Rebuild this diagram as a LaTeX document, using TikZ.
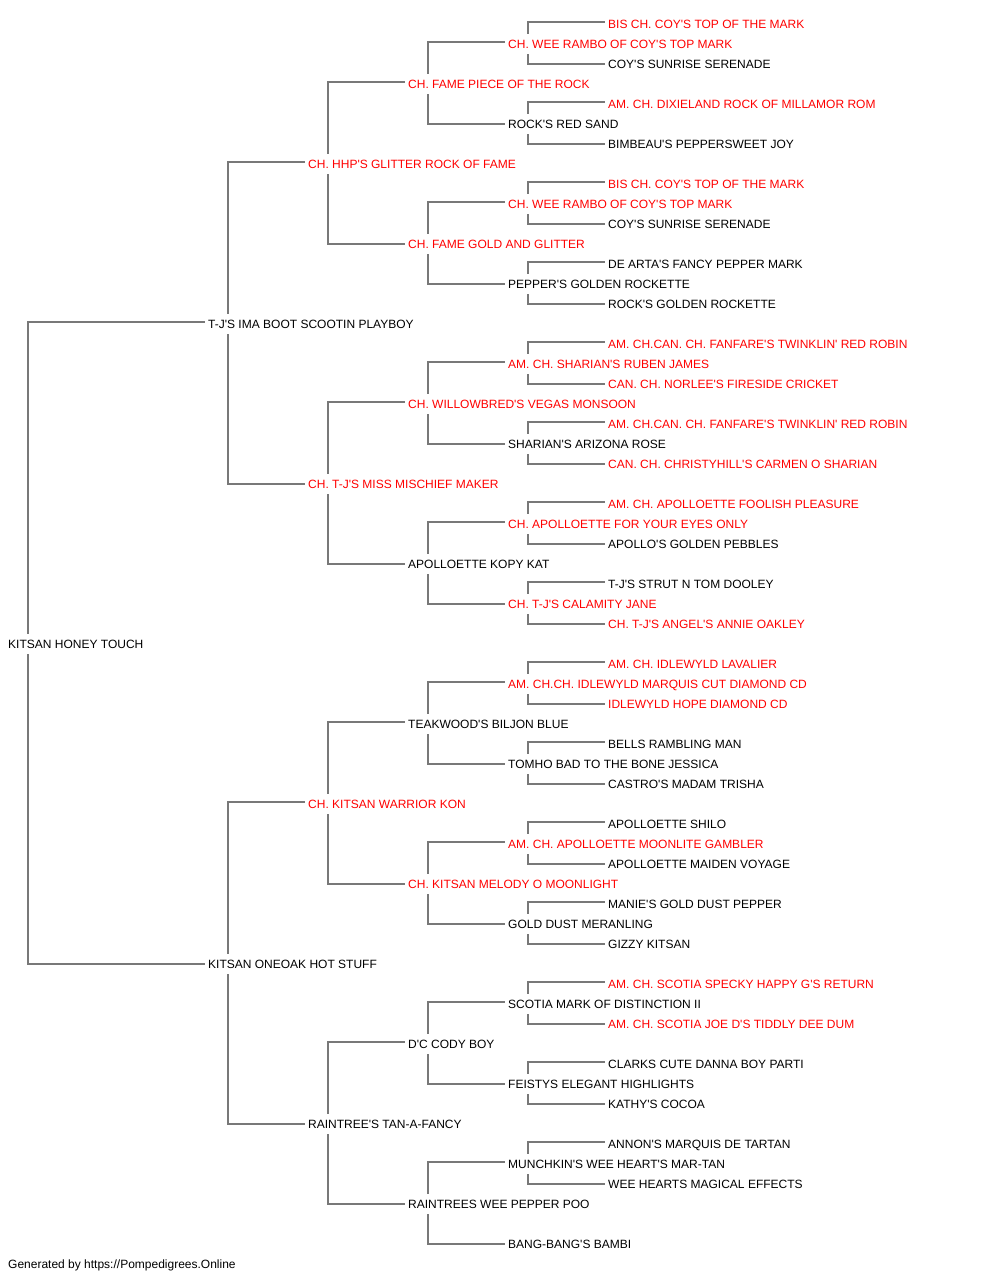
\documentclass[tikz,border=0pt]{standalone}
\usepackage{fontspec}
\setmainfont{Liberation Sans}[Ligatures=TeXOff]
\usetikzlibrary{backgrounds}
\definecolor{lineg}{RGB}{120,120,120}
\definecolor{redtxt}{RGB}{255,0,0}
\tikzset{
  nm/.style={anchor=west, fill=white, font=\fontsize{12pt}{14pt}\selectfont,
    text height=10.6pt, text depth=2pt, inner xsep=3pt, inner ysep=3.5pt, text=black},
  rd/.style={nm, text=redtxt},
  conn/.style={draw=lineg, line width=1.8pt, line join=miter}
}
\newcommand\pedconn[1]{\draw[conn] ([yshift=2pt]#1s.west) -| ([xshift=23pt]#1.west) |- (#1d.west);}
\begin{document}
\begin{tikzpicture}[x=1pt,y=-1pt]
\useasboundingbox (0,0) rectangle (1000,1280);
% level 0
\node[nm] (r) at (5,644) {KITSAN HONEY TOUCH};
% level 1
\node[nm] (rs) at (205,324) {T-J'S IMA BOOT SCOOTIN PLAYBOY};
\node[nm] (rd) at (205,964) {KITSAN ONEOAK HOT STUFF};
% level 2
\node[rd] (rss) at (305,164) {CH. HHP'S GLITTER ROCK OF FAME};
\node[rd] (rsd) at (305,484) {CH. T-J'S MISS MISCHIEF MAKER};
\node[rd] (rds) at (305,804) {CH. KITSAN WARRIOR KON};
\node[nm] (rdd) at (305,1124) {RAINTREE'S TAN-A-FANCY};
% level 3
\node[rd] (rsss) at (405,84) {CH. FAME PIECE OF THE ROCK};
\node[rd] (rssd) at (405,244) {CH. FAME GOLD AND GLITTER};
\node[rd] (rsds) at (405,404) {CH. WILLOWBRED'S VEGAS MONSOON};
\node[nm] (rsdd) at (405,564) {APOLLOETTE KOPY KAT};
\node[nm] (rdss) at (405,724) {TEAKWOOD'S BILJON BLUE};
\node[rd] (rdsd) at (405,884) {CH. KITSAN MELODY O MOONLIGHT};
\node[nm] (rdds) at (405,1044) {D'C CODY BOY};
\node[nm] (rddd) at (405,1204) {RAINTREES WEE PEPPER POO};
% level 4
\node[rd] (rssss) at (505,44) {CH. WEE RAMBO OF COY'S TOP MARK};
\node[nm] (rsssd) at (505,124) {ROCK'S RED SAND};
\node[rd] (rssds) at (505,204) {CH. WEE RAMBO OF COY'S TOP MARK};
\node[nm] (rssdd) at (505,284) {PEPPER'S GOLDEN ROCKETTE};
\node[rd] (rsdss) at (505,364) {AM. CH. SHARIAN'S RUBEN JAMES};
\node[nm] (rsdsd) at (505,444) {SHARIAN'S ARIZONA ROSE};
\node[rd] (rsdds) at (505,524) {CH. APOLLOETTE FOR YOUR EYES ONLY};
\node[rd] (rsddd) at (505,604) {CH. T-J'S CALAMITY JANE};
\node[rd] (rdsss) at (505,684) {AM. CH.CH. IDLEWYLD MARQUIS CUT DIAMOND CD};
\node[nm] (rdssd) at (505,764) {TOMHO BAD TO THE BONE JESSICA};
\node[rd] (rdsds) at (505,844) {AM. CH. APOLLOETTE MOONLITE GAMBLER};
\node[nm] (rdsdd) at (505,924) {GOLD DUST MERANLING};
\node[nm] (rddss) at (505,1004) {SCOTIA MARK OF DISTINCTION II};
\node[nm] (rddsd) at (505,1084) {FEISTYS ELEGANT HIGHLIGHTS};
\node[nm] (rddds) at (505,1164) {MUNCHKIN'S WEE HEART'S MAR-TAN};
\node[nm] (rdddd) at (505,1244) {BANG-BANG'S BAMBI};
% level 5
\node[rd] (rsssss) at (605,24) {BIS CH. COY'S TOP OF THE MARK};
\node[nm] (rssssd) at (605,64) {COY'S SUNRISE SERENADE};
\node[rd] (rsssds) at (605,104) {AM. CH. DIXIELAND ROCK OF MILLAMOR ROM};
\node[nm] (rsssdd) at (605,144) {BIMBEAU'S PEPPERSWEET JOY};
\node[rd] (rssdss) at (605,184) {BIS CH. COY'S TOP OF THE MARK};
\node[nm] (rssdsd) at (605,224) {COY'S SUNRISE SERENADE};
\node[nm] (rssdds) at (605,264) {DE ARTA'S FANCY PEPPER MARK};
\node[nm] (rssddd) at (605,304) {ROCK'S GOLDEN ROCKETTE};
\node[rd] (rsdsss) at (605,344) {AM. CH.CAN. CH. FANFARE'S TWINKLIN' RED ROBIN};
\node[rd] (rsdssd) at (605,384) {CAN. CH. NORLEE'S FIRESIDE CRICKET};
\node[rd] (rsdsds) at (605,424) {AM. CH.CAN. CH. FANFARE'S TWINKLIN' RED ROBIN};
\node[rd] (rsdsdd) at (605,464) {CAN. CH. CHRISTYHILL'S CARMEN O SHARIAN};
\node[rd] (rsddss) at (605,504) {AM. CH. APOLLOETTE FOOLISH PLEASURE};
\node[nm] (rsddsd) at (605,544) {APOLLO'S GOLDEN PEBBLES};
\node[nm] (rsddds) at (605,584) {T-J'S STRUT N TOM DOOLEY};
\node[rd] (rsdddd) at (605,624) {CH. T-J'S ANGEL'S ANNIE OAKLEY};
\node[rd] (rdssss) at (605,664) {AM. CH. IDLEWYLD LAVALIER};
\node[rd] (rdsssd) at (605,704) {IDLEWYLD HOPE DIAMOND CD};
\node[nm] (rdssds) at (605,744) {BELLS RAMBLING MAN};
\node[nm] (rdssdd) at (605,784) {CASTRO'S MADAM TRISHA};
\node[nm] (rdsdss) at (605,824) {APOLLOETTE SHILO};
\node[nm] (rdsdsd) at (605,864) {APOLLOETTE MAIDEN VOYAGE};
\node[nm] (rdsdds) at (605,904) {MANIE'S GOLD DUST PEPPER};
\node[nm] (rdsddd) at (605,944) {GIZZY KITSAN};
\node[rd] (rddsss) at (605,984) {AM. CH. SCOTIA SPECKY HAPPY G'S RETURN};
\node[rd] (rddssd) at (605,1024) {AM. CH. SCOTIA JOE D'S TIDDLY DEE DUM};
\node[nm] (rddsds) at (605,1064) {CLARKS CUTE DANNA BOY PARTI};
\node[nm] (rddsdd) at (605,1104) {KATHY'S COCOA};
\node[nm] (rdddss) at (605,1144) {ANNON'S MARQUIS DE TARTAN};
\node[nm] (rdddsd) at (605,1184) {WEE HEARTS MAGICAL EFFECTS};
% footer
\node[nm, fill=none] (foot) at (5,1264) {Generated by https://Pompedigrees.Online};
\begin{scope}[on background layer]
\fill[white] (0,0) rectangle (1000,1280);
\pedconn{r}
\pedconn{rs}\pedconn{rd}
\pedconn{rss}\pedconn{rsd}\pedconn{rds}\pedconn{rdd}
\pedconn{rsss}\pedconn{rssd}\pedconn{rsds}\pedconn{rsdd}
\pedconn{rdss}\pedconn{rdsd}\pedconn{rdds}
\draw[conn] ([yshift=2pt]rddds.west) -| ([xshift=23pt]rddd.west) |- (rdddd.west);
\pedconn{rssss}\pedconn{rsssd}\pedconn{rssds}\pedconn{rssdd}
\pedconn{rsdss}\pedconn{rsdsd}\pedconn{rsdds}\pedconn{rsddd}
\pedconn{rdsss}\pedconn{rdssd}\pedconn{rdsds}\pedconn{rdsdd}
\pedconn{rddss}\pedconn{rddsd}\pedconn{rddds}
\end{scope}
\end{tikzpicture}
\end{document}
